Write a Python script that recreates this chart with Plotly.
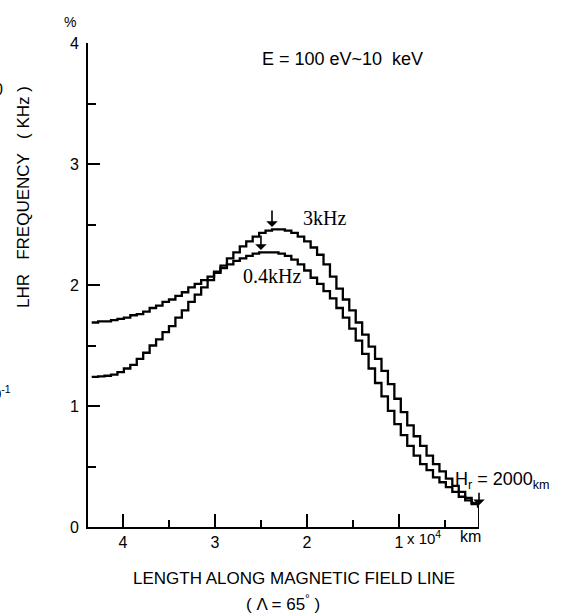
import plotly.graph_objects as go

# Length along field line (x 10^4 km), step positions of the histogram-like curves
X_LEN = [4.34, 4.27, 4.20, 4.13, 4.06, 3.99, 3.92, 3.85, 3.78, 3.71,
         3.64, 3.57, 3.50, 3.43, 3.36, 3.29, 3.22, 3.15, 3.08, 3.01,
         2.94, 2.87, 2.80, 2.73, 2.66, 2.59, 2.52, 2.45, 2.38, 2.31,
         2.24, 2.17, 2.10, 2.03, 1.96, 1.89, 1.82, 1.75, 1.68, 1.61,
         1.54, 1.47, 1.40, 1.33, 1.26, 1.19, 1.12, 1.05, 0.98, 0.91,
         0.84, 0.77, 0.70, 0.63, 0.56, 0.49, 0.42, 0.35, 0.28, 0.21, 0.14]

# 3 kHz curve (%)
Y_3KHZ = [1.24, 1.245, 1.25, 1.26, 1.28, 1.31, 1.34, 1.39, 1.44, 1.50,
          1.55, 1.61, 1.66, 1.73, 1.79, 1.86, 1.92, 1.98, 2.04, 2.10,
          2.16, 2.22, 2.27, 2.32, 2.36, 2.40, 2.43, 2.45, 2.46, 2.46,
          2.45, 2.43, 2.40, 2.36, 2.31, 2.25, 2.17, 2.07, 1.97, 1.88,
          1.79, 1.69, 1.59, 1.49, 1.39, 1.29, 1.18, 1.06, 0.95, 0.84,
          0.75, 0.67, 0.59, 0.52, 0.46, 0.40, 0.34, 0.29, 0.24, 0.20, 0.17]

# 0.4 kHz curve (%)
Y_04KHZ = [1.69, 1.70, 1.70, 1.71, 1.72, 1.73, 1.75, 1.76, 1.78, 1.81,
           1.83, 1.86, 1.88, 1.91, 1.94, 1.98, 2.01, 2.04, 2.07, 2.11,
           2.14, 2.17, 2.20, 2.22, 2.24, 2.26, 2.27, 2.27, 2.27, 2.26,
           2.24, 2.21, 2.17, 2.12, 2.06, 2.01, 1.95, 1.89, 1.81, 1.73,
           1.64, 1.54, 1.43, 1.31, 1.19, 1.08, 0.96, 0.85, 0.76, 0.67,
           0.59, 0.52, 0.47, 0.41, 0.37, 0.33, 0.29, 0.25, 0.22, 0.19, 0.16]

# Hr = 2000 km end marker
HR_X = [0.13, 0.13]
HR_Y = [0.0, 0.17]

X_TICKS = [4, 3, 2, 1]
X_TICKTEXT = ["4", "3", "2", "1"]
Y_TICKS = [0, 1, 2, 3, 4]
Y_TICKTEXT = ["0", "1", "2", "3", "4"]

X_RANGE = [4.38, 0.13]
Y_RANGE = [0, 4]

SANS = "Liberation Sans"
SERIF = "Liberation Serif"

fig = go.Figure()
line = dict(color="black", width=2.3, shape="hv")
fig.add_trace(go.Scatter(x=X_LEN, y=Y_04KHZ, mode="lines", line=line, name="0.4kHz"))
fig.add_trace(go.Scatter(x=X_LEN, y=Y_3KHZ, mode="lines", line=line, name="3kHz"))
fig.add_trace(go.Scatter(x=HR_X, y=HR_Y, mode="lines", line=dict(color="black", width=2), name="Hr"))

L, R, T, B = 88, 85, 43, 86
W, H = 564, 613


def px(xp, yp):
    return (xp - L) / (W - L - R), (H - B - yp) / (H - T - B)


anns = []


def add_text(text, xp, yp, size, family=SANS, xanchor="center", angle=0):
    x, y = px(xp, yp)
    anns.append(dict(text=text, x=x, y=y, xref="paper", yref="paper", showarrow=False,
                     xanchor=xanchor, yanchor="middle", textangle=angle,
                     font=dict(family=family, size=size, color="black")))


NB = "\u00a0"
add_text("%", 70, 22, 14)
add_text("E" + NB + "=" + NB + "100" + NB + "eV~10" + NB + NB + "keV", 342, 59, 18)
add_text("3kHz", 324, 218, 20, family=SERIF)
add_text("0.4kHz", 272, 276, 20, family=SERIF)
add_text("H<sub>r</sub> = 2000<sub>km</sub>", 453, 480, 18, xanchor="left")
add_text("x 10<sup>4</sup>", 405, 537, 15, xanchor="left")
add_text("km", 458, 536, 16, xanchor="left")
add_text("LENGTH ALONG MAGNETIC FIELD LINE", 294, 578, 17)
add_text("(" + NB + "\u039b = 65<sup>\u00b0</sup>" + NB + ")", 283, 603, 17)
add_text("LHR" + NB * 3 + "FREQUENCY" + NB * 3 + "(" + NB + "KHz" + NB + ")", 23, 197, 17, angle=-90)
add_text("0<sup>-1</sup>", 13, 393, 15, xanchor="right")
add_text("0", 5, 90, 16, xanchor="right")

# arrows
for (xv, yv, ay) in [(2.38, 2.48, -18), (2.50, 2.29, -16), (0.13, 0.18, -14)]:
    anns.append(dict(x=xv, y=yv, xref="x", yref="y", ax=0, ay=ay, showarrow=True,
                     arrowhead=1, arrowsize=1.2, arrowwidth=1.6, arrowcolor="black", text=""))

fig.update_layout(
    width=W, height=H,
    margin=dict(l=L, r=R, t=T, b=B),
    paper_bgcolor="white", plot_bgcolor="white",
    showlegend=False,
    annotations=anns,
    xaxis=dict(range=X_RANGE, showgrid=False, zeroline=False, showline=True,
               linecolor="black", linewidth=2, ticks="inside", ticklen=13, tickwidth=2,
               tickcolor="black", tickvals=X_TICKS, ticktext=X_TICKTEXT,
               tickfont=dict(family=SANS, size=16, color="black"),
               minor=dict(ticks="inside", dtick=0.5, tick0=0, ticklen=7, tickwidth=2,
                          tickcolor="black", showgrid=False)),
    yaxis=dict(range=Y_RANGE, showgrid=False, zeroline=False, showline=True,
               linecolor="black", linewidth=2, ticks="inside", ticklen=12, tickwidth=2,
               tickcolor="black", tickvals=Y_TICKS, ticktext=Y_TICKTEXT,
               ticklabelstandoff=4,
               tickfont=dict(family=SANS, size=16, color="black"),
               minor=dict(ticks="inside", dtick=0.5, tick0=0, ticklen=8, tickwidth=2,
                          tickcolor="black", showgrid=False)),
)

fig.write_html("out.html")
